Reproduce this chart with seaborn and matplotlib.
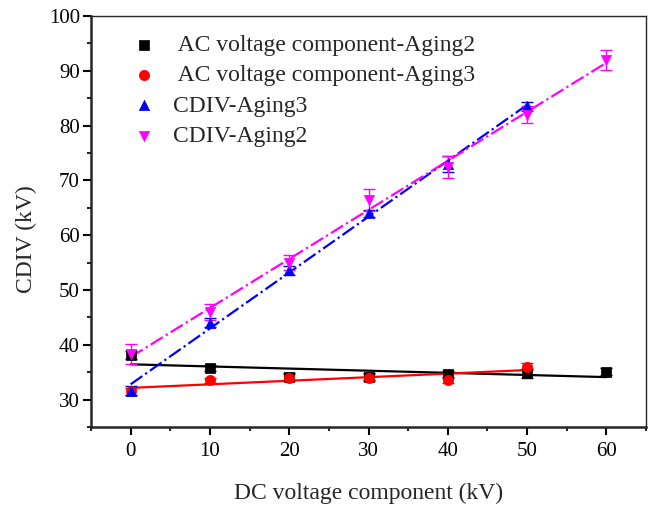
import numpy as np
import pandas as pd
import matplotlib
matplotlib.use("Agg")
import matplotlib.pyplot as plt
import seaborn as sns
from matplotlib.ticker import MultipleLocator

sns.set_style("ticks")
plt.rcParams['font.family'] = ['Liberation Serif', 'DejaVu Serif']

# Data
x_ac2 = [0, 10, 20, 30, 40, 50, 60]
y_ac2 = [38.2, 35.8, 34.2, 34.2, 34.6, 34.8, 35.1]
e_ac2 = [0.7, 0.6, 0.7, 0.6, 0.6, 0.8, 0.7]

x_ac3 = [0, 10, 20, 30, 40, 50]
y_ac3 = [31.5, 33.5, 34.0, 34.0, 33.6, 36.0]
e_ac3 = [0.6, 0.5, 0.6, 0.6, 0.5, 0.6]

x_cd3 = [0, 10, 20, 30, 40, 50]
y_cd3 = [31.6, 44.0, 53.6, 64.0, 73.0, 83.5]
e_cd3 = [0.8, 0.8, 0.8, 0.6, 1.5, 0.8]

x_cd2 = [0, 10, 20, 30, 40, 50, 60]
y_cd2 = [38.3, 46.0, 55.0, 66.5, 72.5, 82.0, 92.0]
e_cd2 = [1.8, 1.5, 1.3, 2.0, 2.0, 1.5, 1.8]

labels = [" AC voltage component-Aging2", " AC voltage component-Aging3",
          "CDIV-Aging3", "CDIV-Aging2"]

fig = plt.figure(figsize=(6.53, 5.08), dpi=100)
ax = fig.add_axes([91/653, 81/508, 555/653, 411/508])

series = [
    (x_ac2, y_ac2, e_ac2, 'black', 's', '-', labels[0]),
    (x_ac3, y_ac3, e_ac3, 'red', 'o', '-', labels[1]),
    (x_cd3, y_cd3, e_cd3, 'blue', '^', '-.', labels[2]),
    (x_cd2, y_cd2, e_cd2, 'magenta', 'v', '-.', labels[3]),
]

for xs, ys, es, c, m, ls, lab in series:
    df = pd.DataFrame({'x': xs, 'y': ys})
    ax.errorbar(xs, ys, yerr=es, fmt='none', ecolor=c, elinewidth=1, capsize=4, capthick=1, zorder=2)
    sns.scatterplot(data=df, x='x', y='y', ax=ax, color=c, marker=m, s=55,
                    edgecolor=c, linewidth=0.5, label=lab, zorder=3)
    sns.regplot(data=df, x='x', y='y', ax=ax, scatter=False, ci=None, truncate=True,
                color=c, line_kws={'linestyle': ls, 'linewidth': 1.6})

ax.set_xlim(-5, 65)
ax.set_ylim(25, 100)
ax.xaxis.set_major_locator(MultipleLocator(10))
ax.xaxis.set_minor_locator(MultipleLocator(5))
ax.yaxis.set_major_locator(MultipleLocator(10))
ax.yaxis.set_minor_locator(MultipleLocator(5))
ax.tick_params(which='major', direction='out', length=6, width=1.5, labelsize=15, colors='black')
ax.tick_params(which='minor', direction='out', length=3, width=1.5)
ax.tick_params(axis='x', which='major', pad=4.5)
ax.tick_params(axis='y', which='major', pad=2)
ax.tick_params(top=False, right=False, which='both')
for s in ['left', 'bottom']:
    ax.spines[s].set_linewidth(1.8)
for s in ['top', 'right']:
    ax.spines[s].set_linewidth(1.0)
    ax.spines[s].set_visible(True)

ax.set_xlabel("DC voltage component (kV)", fontsize=17)
ax.set_ylabel("CDIV (kV)", fontsize=17)
ax.xaxis.set_label_coords(0.5, -0.137)
ax.yaxis.set_label_coords(-0.097, 0.457)

leg = ax.legend(loc='upper left', bbox_to_anchor=(0.047, 0.978), frameon=False, fontsize=17,
                handletextpad=0.45, labelspacing=0.37, borderaxespad=0, handlelength=1.5)

fig.savefig("out.png", dpi=100)
